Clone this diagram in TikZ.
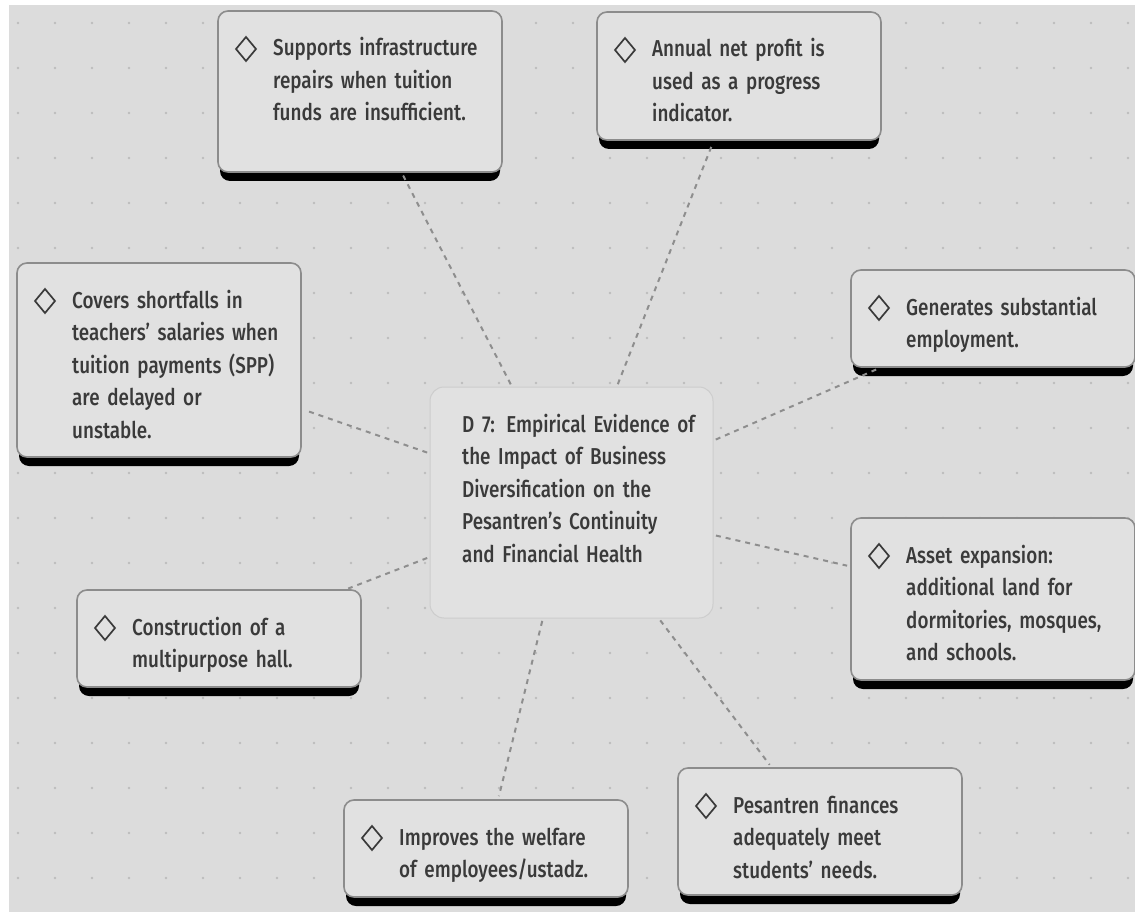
\documentclass[tikz,border=0pt]{standalone}
\usepackage{fontspec}
\IfFontExistsTF{Fira Sans Medium}
  {\setmainfont{Fira Sans Medium}[FakeStretch=0.82]}
  {\setmainfont{Fira Sans}[FakeStretch=0.84]}
\usetikzlibrary{calc}

\definecolor{pagebg}{HTML}{DCDCDC}
\definecolor{gridDot}{HTML}{BDBDBD}
\definecolor{boxFill}{HTML}{E1E1E1}
\definecolor{boxLine}{HTML}{8C8C8C}
\definecolor{hubLine}{HTML}{CDCDCD}
\definecolor{inkText}{HTML}{3A3A3A}
\definecolor{linkGray}{HTML}{8E8E8E}

\tikzset{
  itembox/.style={draw=boxLine, line width=1.6pt, fill=boxFill, rounded corners=10pt,
    minimum width=284pt, inner sep=0pt, outer sep=0pt},
  hubbox/.style={draw=hubLine, line width=1pt, fill=boxFill, rounded corners=14pt,
    minimum width=283pt, minimum height=231pt, inner sep=0pt, outer sep=0pt},
  barshade/.style={fill=black, rounded corners=10pt},
  bulletmark/.style={draw=inkText, line width=1.7pt, line join=miter},
  itemtext/.style={text=inkText, align=left, text width=262pt, inner sep=0pt,
    font=\fontsize{23pt}{32.5pt}\selectfont},
  link/.style={draw=linkGray, line width=2pt, dash pattern=on 5pt off 5pt,
    shorten <=3pt, shorten >=4pt},
}

% #1 name, #2 left, #3 top, #4 height, #5 text
\newcommand\infobox[5]{%
  \fill[barshade] ({#2+2},{#3+9}) rectangle ({#2+282},{#3+#4+9});
  \node[itembox, minimum height=#4pt, anchor=north west] (#1) at (#2,#3) {};
  \draw[bulletmark] ({#2+28},{#3+26}) -- ({#2+38},{#3+38}) -- ({#2+28},{#3+50})
    -- ({#2+18},{#3+38}) -- cycle;
  \node[itemtext, anchor=base west] (#1-t) at ({#2+55},{#3+45}) {#5};
}

\begin{document}
\begin{tikzpicture}[x=1pt, y=-1pt]
  \useasboundingbox (0,0) rectangle (1135,912);
  \fill[white] (0,0) rectangle (1135,912);
  \fill[pagebg] (9,5) rectangle (1135,912);

  % dotted grid
  \begin{scope}
    \clip (9,5) rectangle (1135,912);
    \foreach \i in {0,...,30}
      \foreach \j in {0,...,19}
        \fill[gridDot] ({18+37*\i},{23+45*\j}) circle (1.3pt);
  \end{scope}

  % central topic
  \node[hubbox, anchor=north west] (hub) at (430,387) {};
  \node[itemtext, anchor=base west] (hub-t) at (462,432)
    {D 7: Empirical Evidence of\\ the Impact of Business\\ Diversification on the\\
     Pesantren’s Continuity\\ and Financial Health};

  % surrounding findings
  \infobox{repairs}{218}{11}{161}{Supports infrastructure\\ repairs when tuition\\ funds are insufficient.}
  \infobox{profit}{597}{12}{128}{Annual net profit is\\ used as a progress\\ indicator.}
  \infobox{salaries}{17}{263}{194}{Covers shortfalls in\\ teachers’ salaries when\\ tuition payments (SPP)\\ are delayed or\\ unstable.}
  \infobox{jobs}{851}{270}{97}{Generates substantial\\ employment.}
  \infobox{assets}{851}{518}{162}{Asset expansion:\\ additional land for\\ dormitories, mosques,\\ and schools.}
  \infobox{hall}{77}{590}{97}{Construction of a\\ multipurpose hall.}
  \infobox{welfare}{344}{800}{97}{Improves the welfare\\ of employees/ustadz.}
  \infobox{needs}{678}{768}{127}{Pesantren finances\\ adequately meet\\ students’ needs.}

  % dashed links from the centre
  \foreach \b in {repairs,profit,salaries,jobs,assets,hall,welfare,needs}
    \draw[link] (hub) -- (\b);
\end{tikzpicture}
\end{document}
